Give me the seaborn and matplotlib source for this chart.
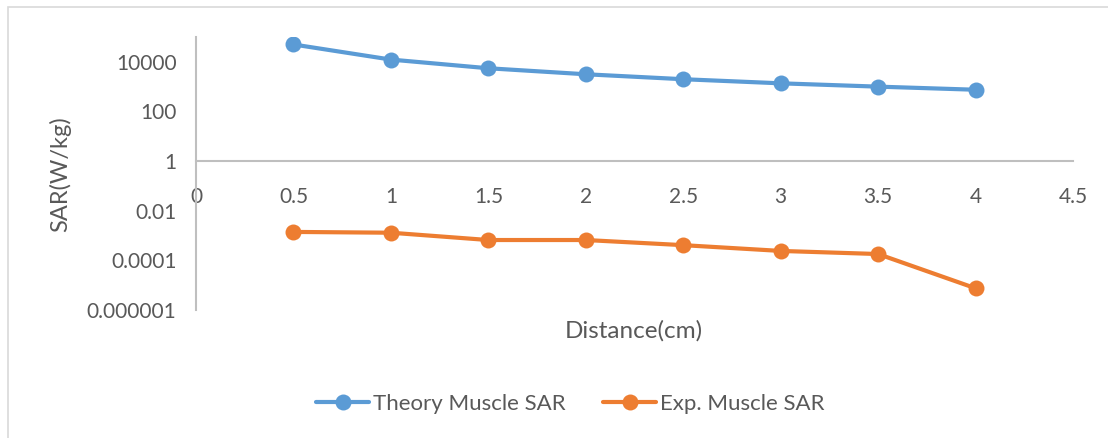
import matplotlib
matplotlib.use("Agg")
import matplotlib.pyplot as plt
from matplotlib.patches import Rectangle
from matplotlib.ticker import FixedLocator, FixedFormatter, NullLocator
import pandas as pd
import seaborn as sns

# Data
distance_cm = [0.5, 1.0, 1.5, 2.0, 2.5, 3.0, 3.5, 4.0]
theory_muscle_sar = [50000, 12300, 5500, 3150, 1990, 1360, 1000, 750]
exp_muscle_sar = [0.0014, 0.0013, 0.00066, 0.00066, 0.00041, 0.00024, 0.00018, 0.0000075]
series_names = ["Theory Muscle SAR", "Exp. Muscle SAR"]
x_ticks = [0, 0.5, 1, 1.5, 2, 2.5, 3, 3.5, 4, 4.5]
x_tick_labels = ["0", "0.5", "1", "1.5", "2", "2.5", "3", "3.5", "4", "4.5"]
y_ticks = [1e-6, 1e-4, 1e-2, 1, 1e2, 1e4]
y_tick_labels = ["0.000001", "0.0001", "0.01", "1", "100", "10000"]

df = pd.concat([
    pd.DataFrame({"Distance": distance_cm, "SAR": theory_muscle_sar, "Series": series_names[0]}),
    pd.DataFrame({"Distance": distance_cm, "SAR": exp_muscle_sar, "Series": series_names[1]}),
], ignore_index=True)

sns.set_theme(style="white")
plt.rcParams["font.family"] = ["Lato", "DejaVu Sans"]

text_color = "#595959"
axis_color = "#BFBFBF"
palette = {series_names[0]: "#5B9BD5", series_names[1]: "#ED7D31"}

fig = plt.figure(figsize=(11.08, 4.38), dpi=100)
W, H = 1108, 438
ax = fig.add_axes([196 / W, 1 - 310 / H, (1073 - 196) / W, (310 - 37) / H])

sns.lineplot(
    data=df, x="Distance", y="SAR", hue="Series", palette=palette,
    marker="o", markersize=11.5, markeredgewidth=0, linewidth=3,
    ax=ax, legend=False,
)

ax.set_yscale("log")
ax.set_ylim(1e-6, 1e5)
ax.set_xlim(0, 4.5)

ax.xaxis.set_major_locator(FixedLocator(x_ticks))
ax.xaxis.set_major_formatter(FixedFormatter(x_tick_labels))
ax.yaxis.set_major_locator(FixedLocator(y_ticks))
ax.yaxis.set_major_formatter(FixedFormatter(y_tick_labels))
ax.yaxis.set_minor_locator(NullLocator())
ax.xaxis.set_minor_locator(NullLocator())

# Horizontal axis crosses at SAR = 1
ax.spines["bottom"].set_position(("data", 1))
for s in ["top", "right"]:
    ax.spines[s].set_visible(False)
for s in ["left", "bottom"]:
    ax.spines[s].set_color(axis_color)
    ax.spines[s].set_linewidth(1.5)

ax.tick_params(axis="both", direction="out", length=6, width=1.5, color=axis_color,
               labelcolor=text_color, labelsize=15)
ax.tick_params(axis="x", pad=13)
ax.tick_params(axis="y", pad=8)
ax.grid(False)

ax.set_xlabel("")
ax.set_ylabel("")
fig.text(634 / W, 1 - 331 / H, "Distance(cm)", ha="center", va="center",
         fontsize=17.5, color=text_color)
fig.text(60 / W, 1 - 174 / H, "SAR(W/kg)", ha="center", va="center",
         rotation=90, fontsize=17, color=text_color)

# Legend below the plot
handles = [
    plt.Line2D([], [], color=palette[n], marker="o", markersize=11.5,
               markeredgewidth=0, linewidth=3)
    for n in series_names
]
fig.legend(handles, series_names, loc="center", bbox_to_anchor=(570 / W, 1 - 404 / H),
           ncol=2, frameon=False, fontsize=16, labelcolor=text_color,
           handlelength=2.4, handletextpad=0.15, columnspacing=1.7)

# Chart border
fig.patches.append(Rectangle((8 / W, -0.05), 1.2, 1.05 - 7 / H, transform=fig.transFigure,
                             fill=False, edgecolor="#D9D9D9", linewidth=1.2))

fig.savefig("out.png", dpi=100, facecolor="white")
